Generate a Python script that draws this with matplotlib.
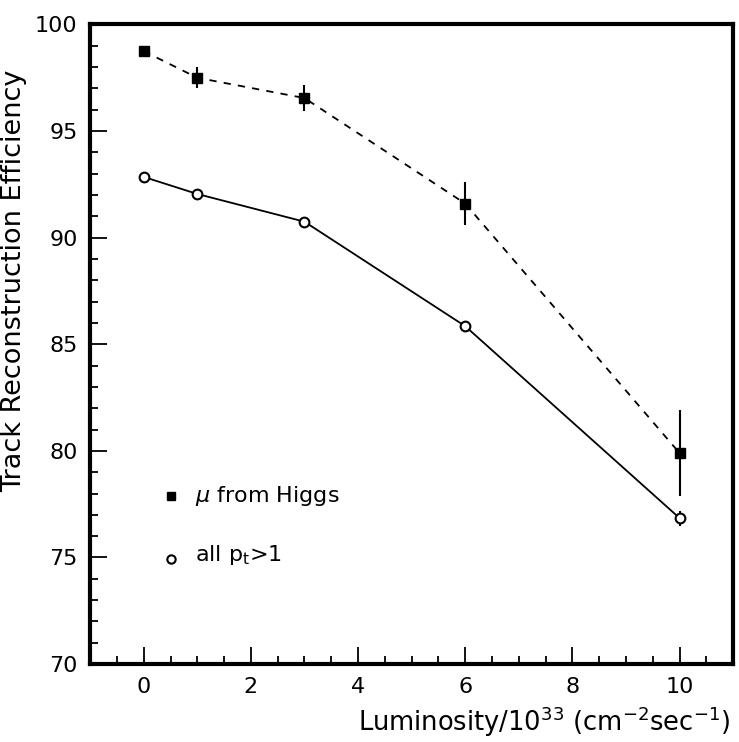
import matplotlib
matplotlib.use("Agg")
import matplotlib.pyplot as plt
from matplotlib.ticker import MultipleLocator

plt.rcParams['font.family'] = ['DejaVu Sans']

lumi = [0, 1, 3, 6, 10]
mu_eff = [98.75, 97.5, 96.55, 91.6, 79.9]
mu_err = [0.25, 0.5, 0.6, 1.0, 2.0]
all_eff = [92.85, 92.05, 90.75, 85.85, 76.85]
all_err = [0.2, 0.15, 0.15, 0.25, 0.35]

x_ticks = [0, 2, 4, 6, 8, 10]
y_ticks = [70, 75, 80, 85, 90, 95, 100]

fig = plt.figure(figsize=(7.39, 7.42), dpi=100)
ax = fig.add_axes([0.122, 0.105, 0.87, 0.862])

ax.errorbar(lumi, mu_eff, yerr=mu_err, fmt='s', color='black', ms=7,
            elinewidth=1.5, capsize=0, zorder=3)
ax.plot(lumi, mu_eff, color='black', lw=1.3, ls=(0, (4, 4)), zorder=2)

ax.errorbar(lumi, all_eff, yerr=all_err, fmt='o', color='black', mfc='white',
            mec='black', mew=1.5, ms=7, elinewidth=1.5, capsize=0, zorder=3)
ax.plot(lumi, all_eff, color='black', lw=1.3, ls='-', zorder=2)

# legend drawn as text in data space
ax.plot([0.5], [77.9], 's', color='black', ms=6)
ax.text(0.95, 77.9, r'$\mu$ from Higgs', fontsize=16, va='center', ha='left')
ax.plot([0.5], [74.95], 'o', color='black', mfc='white', mew=1.5, ms=6)
ax.text(0.95, 75.1, r'all p$_\mathregular{t}$>1', fontsize=16, va='center', ha='left')

ax.set_xlim(-1, 11)
ax.set_ylim(70, 100)
ax.set_xticks(x_ticks)
ax.set_yticks(y_ticks)
ax.xaxis.set_minor_locator(MultipleLocator(0.5))
ax.yaxis.set_minor_locator(MultipleLocator(1))
ax.tick_params(which='both', direction='in', top=False, right=False,
               labelsize=16, width=1.3)
ax.tick_params(which='major', length=12, pad=9)
ax.tick_params(which='minor', length=6)

for s in ax.spines.values():
    s.set_linewidth(3)

ax.set_ylabel('Track Reconstruction Efficiency', fontsize=19.5)
ax.yaxis.set_label_coords(-0.098, 0.6)
fig.text(0.988, 0.004, r'Luminosity/10$^{33}$ (cm$^{-2}$sec$^{-1}$)',
         fontsize=18.5, ha='right', va='bottom')

fig.savefig('out.png', dpi=100)
